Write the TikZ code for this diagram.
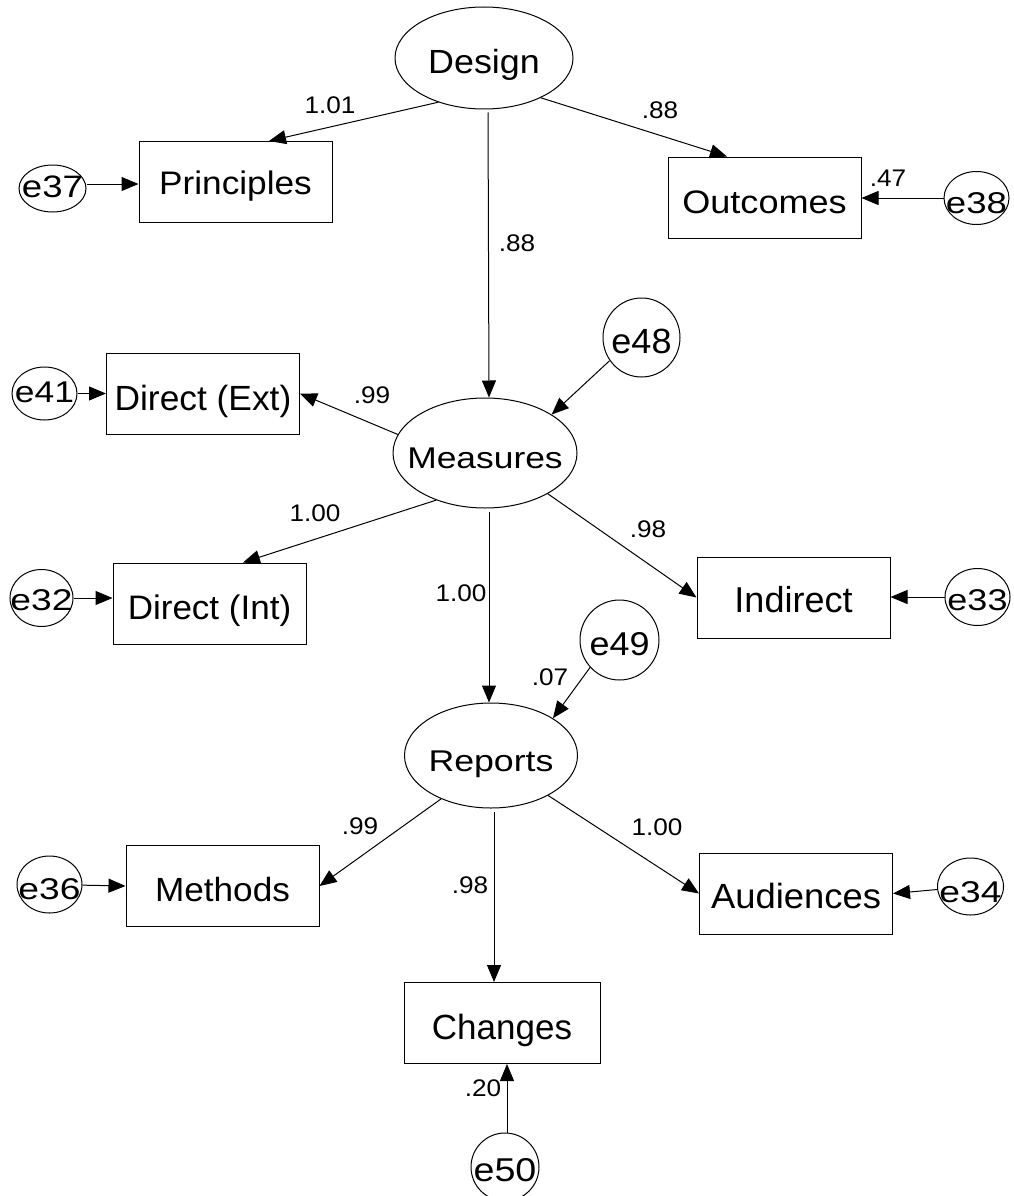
\documentclass[tikz,border=0pt]{standalone}
\usepackage{fontspec}
\setmainfont{Liberation Sans}
\usepackage{graphicx}
\usetikzlibrary{shapes.geometric,arrows.meta,calc}
\newcommand\T[4]{\makebox[0pt]{\raisebox{-#3pt}[0pt][0pt]{\fontsize{#1pt}{#1pt}\selectfont\scalebox{#2}[1]{#4}}}}
\tikzset{
  lat/.style={draw, ellipse, line width=1pt, inner sep=0pt},
  obs/.style={draw, rectangle, line width=1pt, inner sep=0pt, minimum width=193pt, minimum height=81pt},
  err/.style={draw, ellipse, line width=1pt, inner sep=0pt},
  arr/.style={line width=1pt, -{Triangle[length=17pt,width=14pt]}},
  coef/.style={inner sep=0pt}
}
\begin{document}
\begin{tikzpicture}[x=1pt,y=-1pt]
\useasboundingbox[fill=white] (0,0) rectangle (1013,1196);
% latent variables
\node[lat, minimum width=178pt, minimum height=102pt] (design) at (484,58) {\T{33.5}{1.07}{16}{Design}};
\node[lat, minimum width=184pt, minimum height=110pt] (meas) at (485,453) {\T{30}{1.18}{15.2}{Measures}};
\node[lat, minimum width=173pt, minimum height=105pt] (rep) at (491,755.5) {\T{30}{1.19}{16.2}{Reports}};
% observed variables
\node[obs] (prin) at (235.5,182) {\T{32.6}{1.08}{12.7}{Principles}};
\node[obs] (outc) at (764.5,197.5) {\T{32.5}{1.11}{15.6}{Outcomes}};
\node[obs] (dext) at (203,393.5) {\T{35}{1.01}{16.5}{Direct (Ext)}};
\node[obs] (dint) at (209.5,603.5) {\T{34}{1.03}{15.7}{Direct (Int)}};
\node[obs] (indi) at (793.5,597.5) {\T{36}{1.0}{15.4}{Indirect}};
\node[obs] (meth) at (222.5,886) {\T{33.5}{1.05}{15}{Methods}};
\node[obs] (aud) at (796,893.5) {\T{35}{1.04}{14.5}{Audiences}};
\node[obs, minimum width=196pt] (chg) at (502,1023) {\T{35}{1.0}{16}{Changes}};
% error terms
\node[err, minimum width=67pt, minimum height=47pt] (e37) at (52.5,188.5) {\T{31}{1.18}{9.1}{e37}};
\node[err, minimum width=65pt, minimum height=53pt] (e41) at (44.5,393.5) {\T{30}{1.18}{8.7}{e41}};
\node[err, minimum width=63pt, minimum height=57pt] (e32) at (41.5,598) {\T{30}{1.24}{12.7}{e32}};
\node[err, minimum width=65pt, minimum height=53pt] (e38) at (976.5,198) {\T{30}{1.22}{15.2}{e38}};
\node[err, minimum width=65pt, minimum height=57pt] (e33) at (977.5,597) {\T{30}{1.2}{13.7}{e33}};
\node[err, minimum width=66pt, minimum height=57pt] (e34) at (970.5,886.5) {\T{30}{1.24}{15.7}{e34}};
\node[err, minimum width=65pt, minimum height=57pt] (e36) at (49.5,884.5) {\T{30}{1.24}{14.7}{e36}};
\node[err, minimum width=77pt, minimum height=79pt] (e48) at (641.5,337.5) {\T{35}{1.03}{15.5}{e48}};
\node[err, minimum width=79pt, minimum height=80pt] (e49) at (619.5,640) {\T{33}{1.09}{15.3}{e49}};
\node[err, minimum width=68pt, minimum height=68pt] (e50) at (505,1167) {\T{33}{1.14}{14.8}{e50}};
% structural paths
\draw[arr] (design.224) -- ([xshift=33.5pt]prin.north);
\draw[arr] (design.325) -- ([xshift=-37.5pt]outc.north);
\draw[arr, shorten <=3pt] ([xshift=4pt]design.south) -- ([xshift=4pt]meas.north);
\draw[arr] (e48.216) -- (meas.30);
\draw[arr] (meas.168) -- (dext.east);
\draw[arr] (meas.224) -- ([xshift=33.5pt]dint.north);
\draw[arr] (meas.327) -- (indi.west);
\draw[arr, shorten <=3pt] ([xshift=4pt]meas.south) -- ([xshift=-2pt]rep.north);
\draw[arr] (e49.223) -- (rep.31);
\draw[arr] (rep.221) -- (meth.east);
\draw[arr] (rep.325) -- (aud.west);
\draw[arr, shorten <=3pt] ([xshift=3pt]rep.south) -- ([xshift=-8pt]chg.north);
\draw[arr] ([xshift=2pt]e50.north) -- ([xshift=5pt]chg.south);
% error paths
\draw[arr] ($(e37.east)+(0,-4.5)$) -- ($(prin.west)+(0,2)$);
\draw[arr] (e41) -- (dext.west);
\draw[arr] (e32.east) -- (e32.east -| dint.west);
\draw[arr] (e38.west) -- (e38.west -| outc.east);
\draw[arr] (e33.west) -- (e33.west -| indi.east);
\draw[arr] (e34) -- (aud.east);
\draw[arr] (e36) -- (meth.west);
% coefficients
\node[coef] (c1) at (330,105) {\T{24}{1.09}{8.6}{1.01}};
\node[coef] (c2) at (660,110) {\T{24}{1.09}{8.6}{.88}};
\node[coef] (c3) at (517,243) {\T{24}{1.09}{8.6}{.88}};
\node[coef] (c4) at (888,178) {\T{24}{1.09}{8.6}{.47}};
\node[coef] (c5) at (372,395) {\T{24}{1.09}{8.6}{.99}};
\node[coef] (c6) at (315,513) {\T{24}{1.09}{8.6}{1.00}};
\node[coef] (c7) at (648,529) {\T{24}{1.09}{8.6}{.98}};
\node[coef] (c8) at (461,593) {\T{24}{1.09}{8.6}{1.00}};
\node[coef] (c9) at (550,677) {\T{24}{1.09}{8.6}{.07}};
\node[coef] (c10) at (360,826) {\T{24}{1.09}{8.6}{.99}};
\node[coef] (c11) at (657,827) {\T{24}{1.09}{8.6}{1.00}};
\node[coef] (c12) at (470,885) {\T{24}{1.09}{8.6}{.98}};
\node[coef] (c13) at (483,1088) {\T{24}{1.09}{8.6}{.20}};
\end{tikzpicture}
\end{document}
